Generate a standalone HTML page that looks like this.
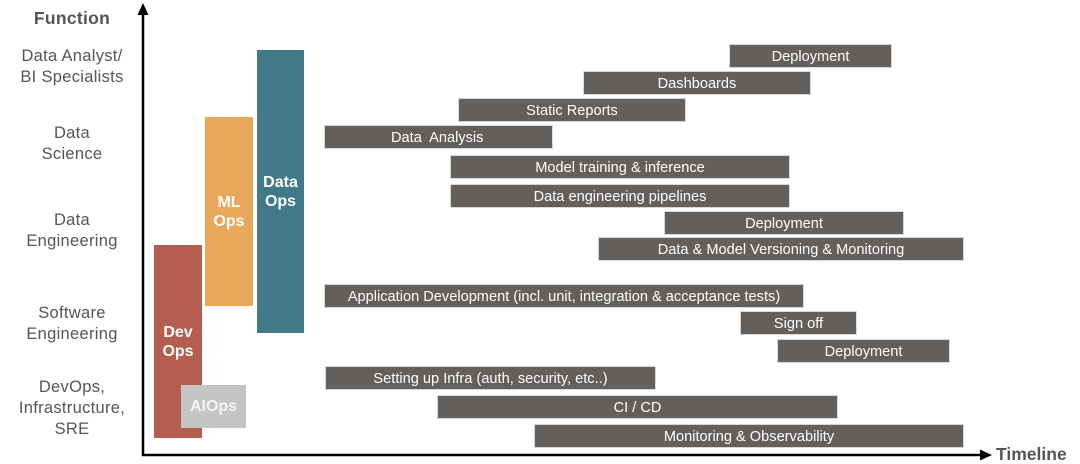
<!DOCTYPE html>
<html><head><meta charset="utf-8"><style>
body{margin:0;width:1080px;height:464px;background:#fff;position:relative;overflow:hidden;font-family:"Liberation Sans",sans-serif}
.b{position:absolute;background:#625f5d;color:#fff;font-size:14.6px;display:flex;align-items:center;justify-content:center;height:24px;padding-top:2px;white-space:nowrap;box-sizing:border-box;border:1px solid #d8d8d8}
.l{position:absolute;width:144px;left:0;text-align:center;color:#555;font-size:16.5px;line-height:21px;letter-spacing:0.3px}
.v{position:absolute;color:#fff;font-size:16px;font-weight:bold;line-height:19px;display:flex;align-items:center;justify-content:center;text-align:center}
</style></head><body>
<div class="l" style="top:8px;font-weight:bold;font-size:17.5px">Function</div>
<div class="l" style="top:46px">Data Analyst/<br>BI Specialists</div>
<div class="l" style="top:123px">Data<br>Science</div>
<div class="l" style="top:210px">Data<br>Engineering</div>
<div class="l" style="top:303px">Software<br>Engineering</div>
<div class="l" style="top:377px">DevOps,<br>Infrastructure,<br>SRE</div>

<svg style="position:absolute;left:0;top:0" width="1080" height="464">
<line x1="143" y1="10" x2="143" y2="456" stroke="#000" stroke-width="2.5"/>
<polygon points="143,3 137.5,15 148.5,15" fill="#000"/>
<line x1="142" y1="455" x2="982" y2="455" stroke="#000" stroke-width="2.5"/>
<polygon points="992,455 980,449.5 980,460.5" fill="#000"/>
<text x="996" y="460" font-family="Liberation Sans" font-size="17.5" font-weight="bold" fill="#555">Timeline</text>
</svg>

<div class="v" style="left:154px;top:245px;width:48px;height:193px;background:#b55d4f">Dev<br>Ops</div>
<div class="v" style="left:205px;top:117px;width:48px;height:189px;background:#e9a75a">ML<br>Ops</div>
<div class="v" style="left:257px;top:50px;width:47px;height:283px;background:#417988">Data<br>Ops</div>
<div class="v" style="left:181px;top:385px;width:65px;height:43px;background:#c4c4c2;color:#f4f4f4">AIOps</div>

<div class="b" style="left:729px;top:44px;width:163px">Deployment</div>
<div class="b" style="left:583px;top:71px;width:228px">Dashboards</div>
<div class="b" style="left:458px;top:98px;width:228px">Static Reports</div>
<div class="b" style="left:324px;top:125px;width:229px;justify-content:flex-start;padding-left:66px">Data&nbsp; Analysis</div>
<div class="b" style="left:450px;top:155px;width:340px">Model training &amp; inference</div>
<div class="b" style="left:450px;top:184px;width:340px">Data engineering pipelines</div>
<div class="b" style="left:664px;top:211px;width:240px">Deployment</div>
<div class="b" style="left:598px;top:237px;width:366px">Data &amp; Model Versioning &amp; Monitoring</div>
<div class="b" style="left:324px;top:284px;width:480px">Application Development (incl. unit, integration &amp; acceptance tests)</div>
<div class="b" style="left:740px;top:311px;width:117px">Sign off</div>
<div class="b" style="left:777px;top:339px;width:173px">Deployment</div>
<div class="b" style="left:325px;top:366px;width:331px">Setting up Infra (auth, security, etc..)</div>
<div class="b" style="left:437px;top:395px;width:401px">CI / CD</div>
<div class="b" style="left:534px;top:424px;width:430px">Monitoring &amp; Observability</div>
</body></html>
